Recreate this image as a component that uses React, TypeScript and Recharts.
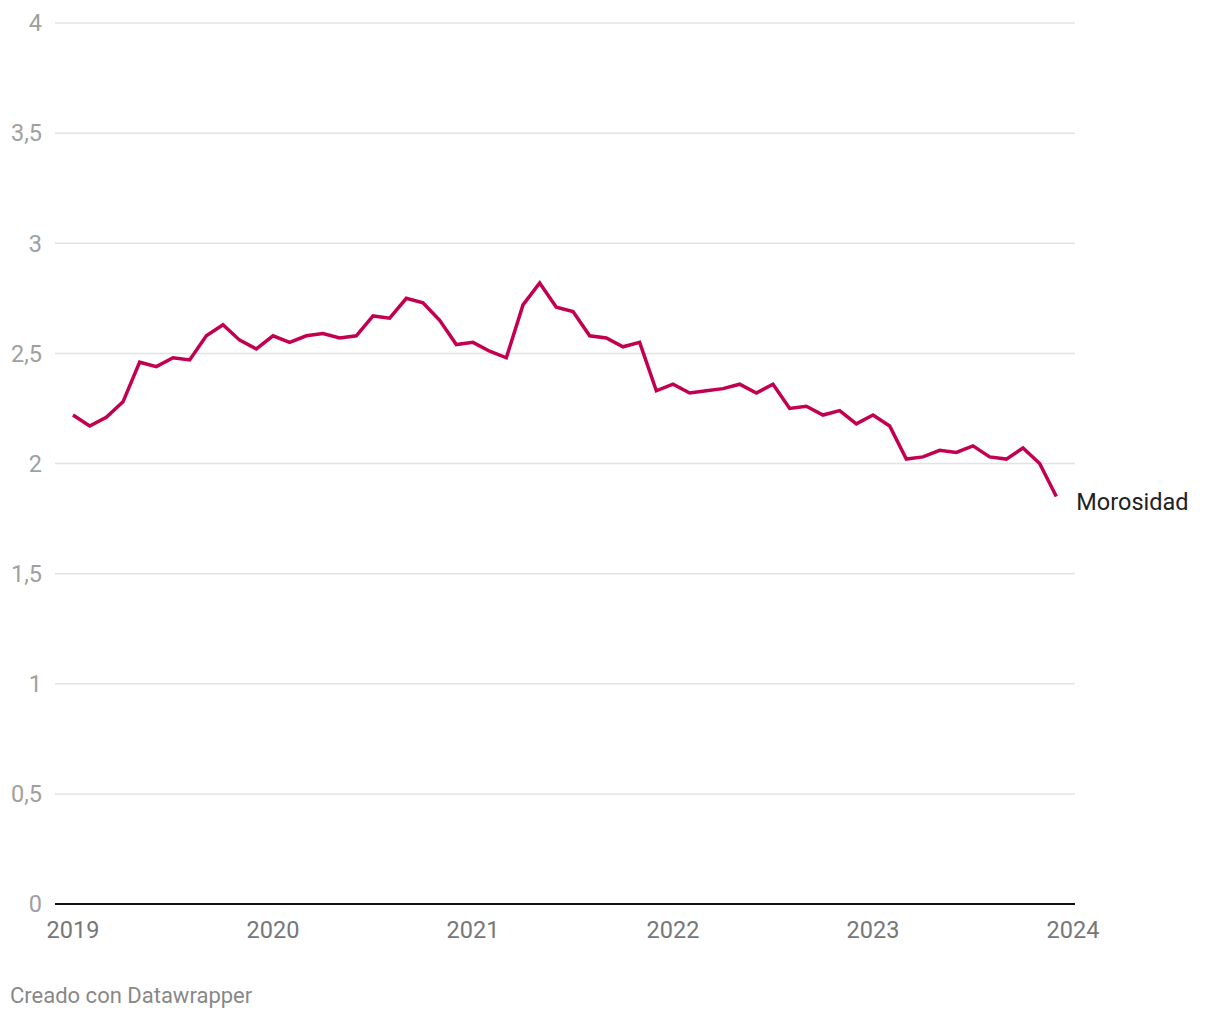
import { LineChart, Line, XAxis, YAxis, CartesianGrid } from 'recharts'

const MONTHS = Array.from({ length: 60 }, (_, i) => 2019 + i / 12)

const MOROSIDAD = [
  2.22, 2.17, 2.21, 2.28, 2.46, 2.44, 2.48, 2.47, 2.58, 2.63, 2.56, 2.52,
  2.58, 2.55, 2.58, 2.59, 2.57, 2.58, 2.67, 2.66, 2.75, 2.73, 2.65, 2.54,
  2.55, 2.51, 2.48, 2.72, 2.82, 2.71, 2.69, 2.58, 2.57, 2.53, 2.55, 2.33,
  2.36, 2.32, 2.33, 2.34, 2.36, 2.32, 2.36, 2.25, 2.26, 2.22, 2.24, 2.18,
  2.22, 2.17, 2.02, 2.03, 2.06, 2.05, 2.08, 2.03, 2.02, 2.07, 2.0, 1.85,
]

const X_TICKS = [2019, 2020, 2021, 2022, 2023, 2024]
const Y_TICKS = [0, 0.5, 1, 1.5, 2, 2.5, 3, 3.5, 4]

const data = MONTHS.map((t, i) => ({ t, value: MOROSIDAD[i] }))

const SeriesLabel = (props: any) => {
  const { x, y, index } = props
  if (index !== data.length - 1) return null
  return (
    <text x={x + 20} y={y + 13} fill="#222" fontSize={23.5} fontFamily="Roboto">
      Morosidad
    </text>
  )
}

export default function App() {
  return (
    <div style={{ position: 'absolute', left: 0, top: 0, width: 1220, height: 1020, background: '#fff', fontFamily: 'Roboto' }}>
      <LineChart width={1220} height={1020} data={data} margin={{ top: 23, right: 145, bottom: 76, left: 10 }}>
        <CartesianGrid vertical={false} stroke="#e3e3e3" strokeWidth={1.5} />
        <XAxis
          dataKey="t"
          type="number"
          domain={[2019, 2024]}
          ticks={X_TICKS}
          padding={{ left: 18, right: 2 }}
          height={40}
          axisLine={{ stroke: '#111', strokeWidth: 2 }}
          tickLine={false}
          tickMargin={11}
          tick={{ fill: '#777', fontSize: 23.5, fontFamily: 'Roboto' }}
        />
        <YAxis
          domain={[0, 4]}
          ticks={Y_TICKS}
          width={45}
          axisLine={false}
          tickLine={false}
          tickMargin={7}
          tickFormatter={(v) => String(v).replace('.', ',')}
          tick={{ fill: '#a0a0a0', fontSize: 23.5, fontFamily: 'Roboto' }}
        />
        <Line
          type="linear"
          dataKey="value"
          stroke="#c3004f"
          strokeWidth={3.5}
          dot={false}
          label={<SeriesLabel />}
          isAnimationActive={false}
        />
      </LineChart>
      <div style={{ position: 'absolute', left: 10, top: 983, fontSize: 22, color: '#888' }}>
        Creado con Datawrapper
      </div>
    </div>
  )
}
